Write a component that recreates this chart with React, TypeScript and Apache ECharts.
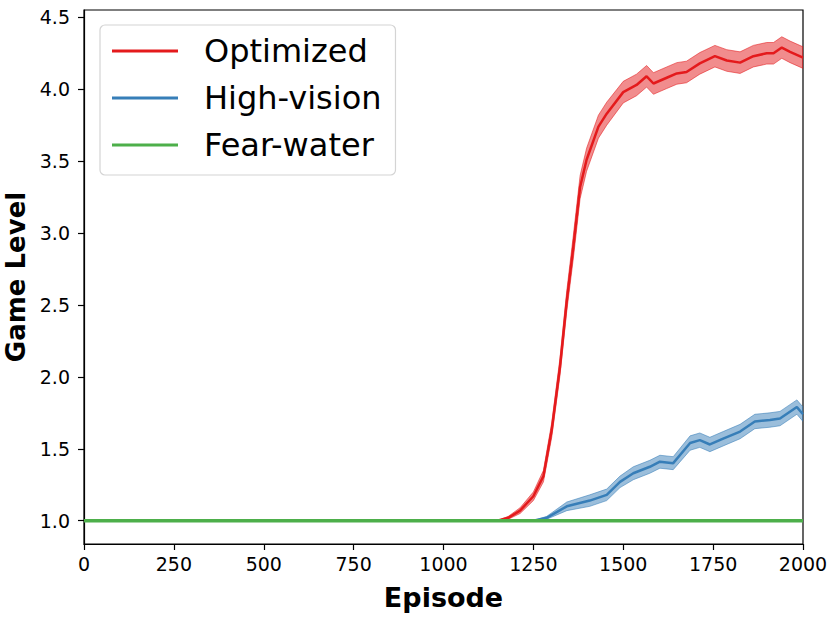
import React, { useEffect, useRef } from "react";
import * as echarts from "echarts";

const RED_X = [0, 1100, 1150, 1180, 1213, 1250, 1278, 1301, 1324, 1343, 1361, 1380, 1398, 1431, 1454, 1500, 1537, 1565, 1584, 1621, 1649, 1676, 1713, 1755, 1788, 1825, 1862, 1899, 1918, 1941, 1964, 2000];
const RED_Y = [1.0, 1.0, 1.0, 1.02, 1.07, 1.17, 1.31, 1.63, 2.07, 2.53, 2.9, 3.32, 3.51, 3.74, 3.83, 3.98, 4.03, 4.09, 4.04, 4.08, 4.11, 4.12, 4.18, 4.23, 4.2, 4.185, 4.23, 4.25, 4.25, 4.29, 4.26, 4.22];
const RED_ERR = [0, 0, 0, 0.01, 0.02, 0.03, 0.04, 0.05, 0.06, 0.07, 0.08, 0.08, 0.08, 0.08, 0.08, 0.075, 0.075, 0.075, 0.075, 0.075, 0.075, 0.075, 0.075, 0.075, 0.075, 0.075, 0.075, 0.075, 0.075, 0.075, 0.075, 0.075];

const BLUE_X = [0, 1250, 1287, 1343, 1407, 1454, 1491, 1528, 1574, 1602, 1639, 1686, 1713, 1741, 1778, 1825, 1866, 1908, 1936, 1983, 2000];
const BLUE_Y = [1.0, 1.0, 1.02, 1.1, 1.14, 1.18, 1.27, 1.33, 1.375, 1.41, 1.4, 1.54, 1.56, 1.53, 1.57, 1.62, 1.69, 1.7, 1.71, 1.79, 1.74];
const BLUE_ERR = [0, 0, 0.01, 0.03, 0.04, 0.04, 0.04, 0.045, 0.045, 0.045, 0.045, 0.05, 0.05, 0.05, 0.05, 0.05, 0.05, 0.05, 0.05, 0.05, 0.05];

const GREEN_X = [0, 2000];
const GREEN_Y = [1.0, 1.0];

const Y_TICKS = [1.0, 1.5, 2.0, 2.5, 3.0, 3.5, 4.0, 4.5];

const RED = "#e41a1c";
const BLUE = "#377eb8";
const GREEN = "#4daf4a";
const FONT = "DejaVu Sans";

function bandSeries(name: string, xs: number[], ys: number[], errs: number[], fill: string, stroke: string) {
  return {
    name,
    type: "custom",
    clip: true,
    silent: true,
    data: xs.map((x, i) => [x, ys[i]]),
    encode: { x: 0, y: 1 },
    renderItem: (params: any, api: any) => {
      if (params.dataIndex !== 0) return null;
      const pts: number[][] = [];
      for (let i = 0; i < xs.length; i++) pts.push(api.coord([xs[i], ys[i] + errs[i]]));
      for (let i = xs.length - 1; i >= 0; i--) pts.push(api.coord([xs[i], ys[i] - errs[i]]));
      return {
        type: "polygon",
        shape: { points: pts },
        style: { fill, stroke, lineWidth: 1 },
      };
    },
  };
}

function lineSeries(name: string, xs: number[], ys: number[], color: string, width: number) {
  return {
    name,
    type: "line",
    data: xs.map((x, i) => [x, ys[i]]),
    showSymbol: false,
    symbol: "none",
    lineStyle: { color, width },
    itemStyle: { color },
    clip: true,
    z: 3,
  };
}

export default function App() {
  const ref = useRef<HTMLDivElement>(null);
  useEffect(() => {
    document.body.style.margin = "0";
    const chart = echarts.init(ref.current!, null, { renderer: "svg" });
    chart.setOption({
      animation: false,
      backgroundColor: "#ffffff",
      grid: {
        left: 84, top: 10, right: 28, bottom: 73,
        outerBoundsMode: "none", containLabel: false,
        show: true, borderColor: "#000", borderWidth: 1.2, backgroundColor: "transparent",
      },
      legend: {
        orient: "vertical",
        left: 100,
        top: 25,
        data: ["Optimized", "High-vision", "Fear-water"],
        icon: "rect",
        itemWidth: 66,
        itemHeight: 3,
        itemGap: 15,
        padding: [10, 14, 14, 12],
        backgroundColor: "#ffffff",
        borderColor: "#d4d4d4",
        borderWidth: 1.2,
        borderRadius: 5,
        textStyle: { fontFamily: FONT, fontSize: 32, lineHeight: 32, color: "#000", padding: [0, 0, 0, 21] },
      },
      xAxis: {
        type: "value",
        min: 0,
        max: 2000,
        interval: 250,
        name: "Episode",
        nameLocation: "middle",
        nameGap: 40,
        nameTextStyle: { fontFamily: FONT, fontSize: 27, fontWeight: "bold", color: "#000" },
        axisLine: { show: true, lineStyle: { color: "#000", width: 1.2 } },
        axisTick: { show: true, inside: false, length: 6, lineStyle: { color: "#000", width: 1.2 } },
        axisLabel: { fontFamily: FONT, fontSize: 19, color: "#000", margin: 10, formatter: (v: number) => String(v) },
        splitLine: { show: false },
      },
      yAxis: {
        type: "value",
        min: 0.838,
        max: 4.551,
        name: "Game Level",
        nameLocation: "middle",
        nameGap: 55,
        nameTextStyle: { fontFamily: FONT, fontSize: 26, lineHeight: 26, fontWeight: "bold", color: "#000" },
        axisLine: { show: true, lineStyle: { color: "#000", width: 1.2 } },
        axisTick: { show: true, inside: false, length: 6, customValues: Y_TICKS, lineStyle: { color: "#000", width: 1.2 } },
        axisLabel: { fontFamily: FONT, fontSize: 19, color: "#000", margin: 14, customValues: Y_TICKS, formatter: (v: number) => v.toFixed(1) },
        splitLine: { show: false },
      },
      series: [
        bandSeries("Optimized band", RED_X, RED_Y, RED_ERR, "rgba(228,26,28,0.5)", "rgba(228,26,28,0.55)"),
        lineSeries("Optimized", RED_X, RED_Y, RED, 2.5),
        bandSeries("High-vision band", BLUE_X, BLUE_Y, BLUE_ERR, "rgba(55,126,184,0.5)", "rgba(55,126,184,0.55)"),
        lineSeries("High-vision", BLUE_X, BLUE_Y, BLUE, 2.5),
        lineSeries("Fear-water", GREEN_X, GREEN_Y, GREEN, 3.5),
      ],
    });
    return () => chart.dispose();
  }, []);
  return <div ref={ref} style={{ width: 831, height: 617 }} />;
}
